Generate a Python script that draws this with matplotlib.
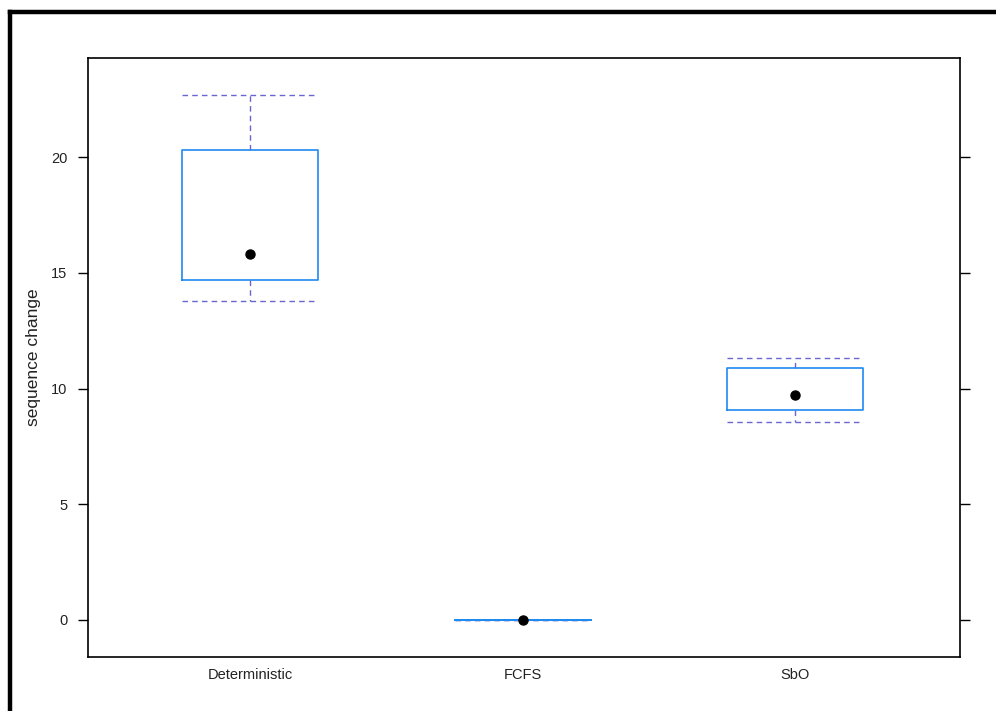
import matplotlib
matplotlib.use("Agg")
import matplotlib.pyplot as plt
from matplotlib.lines import Line2D

# ---------- DATA ----------
methods = ["Deterministic", "FCFS", "SbO"]
whisker_low = [13.8, 0.0, 8.55]
q1 = [14.7, 0.0, 9.07]
medians = [15.8, 0.0, 9.72]
q3 = [20.3, 0.0, 10.9]
whisker_high = [22.7, 0.0, 11.3]
y_ticks = [0, 5, 10, 15, 20]

plt.rcParams["font.family"] = ["Liberation Sans", "DejaVu Sans"]

box_col = "#1f8af0"
umb_col = "#6a66d0"

fig = plt.figure(figsize=(9.96, 7.11), dpi=100)
ax = fig.add_axes([88 / 996, 1 - 657 / 711, (960 - 88) / 996, (657 - 58) / 711])

stats = []
for name, lo, a, m, b, hi in zip(methods, whisker_low, q1, medians, q3, whisker_high):
    stats.append({"label": name, "whislo": lo, "q1": a, "med": m, "q3": b, "whishi": hi})

pos = list(range(1, len(methods) + 1))
ax.bxp(
    stats, positions=pos, widths=0.5, showfliers=False,
    capwidths=0.5,
    boxprops=dict(color=box_col, linewidth=1.2, zorder=3),
    whiskerprops=dict(color=umb_col, linewidth=1.0, linestyle=(0, (4, 3)), zorder=2),
    capprops=dict(color=umb_col, linewidth=1.0, linestyle=(0, (4, 3)), zorder=2),
    medianprops=dict(visible=False),
)
ax.plot(pos, medians, "o", color="black", markersize=6.5, zorder=5)

ax.set_xlim(0.405, 3.605)
ax.set_ylim(-1.6, 24.28)
ax.set_yticks(y_ticks)
ax.set_xticks(pos)
ax.set_xticklabels(methods)
ax.tick_params(axis="y", which="both", left=True, right=True, labelleft=True,
               direction="out", length=7, width=1, pad=8, labelsize=10.5,
               labelcolor="#222222")
ax.tick_params(axis="x", length=0, pad=8, labelsize=10.5, labelcolor="#222222")
for sp in ax.spines.values():
    sp.set_linewidth(1.2)
ax.set_ylabel("sequence change", fontsize=12.5, labelpad=7, color="#222222")

# thick outer frame (only left and top are visible in the crop)
fig.add_artist(Line2D([10 / 996, 10 / 996], [0, 1 - 12 / 711], color="black",
                      linewidth=3.2, transform=fig.transFigure))
fig.add_artist(Line2D([10 / 996, 1], [1 - 12 / 711, 1 - 12 / 711], color="black",
                      linewidth=3.2, transform=fig.transFigure))

fig.savefig("out.png", dpi=100)
